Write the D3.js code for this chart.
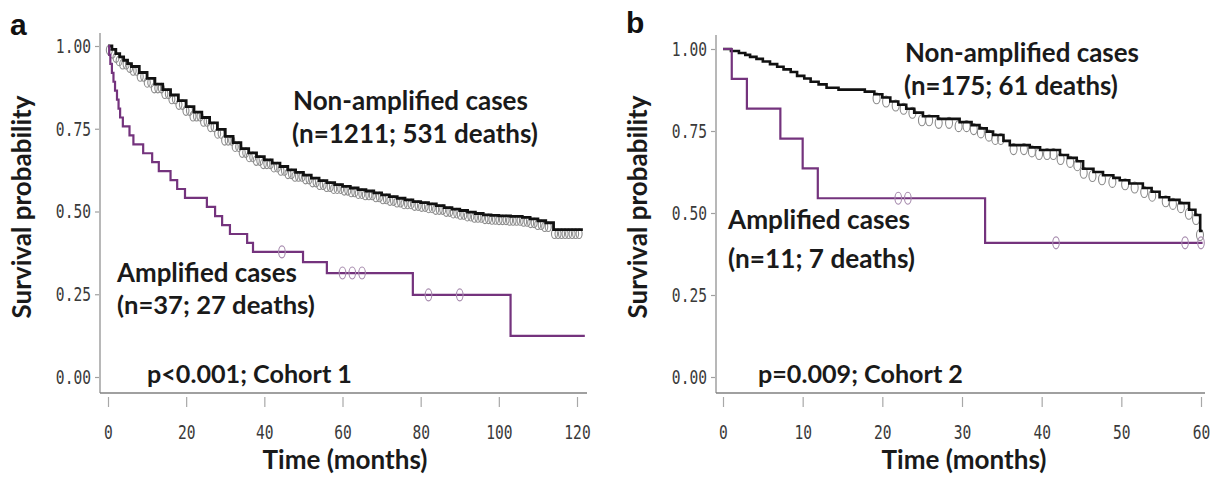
<!DOCTYPE html>
<html>
<head>
<meta charset="utf-8">
<script src="https://cdn.jsdelivr.net/npm/d3@7/dist/d3.min.js"></script>
<style>
  html, body { margin: 0; padding: 0; background: #fff; }
  svg { display: block; }
</style>
</head>
<body>
<svg id="chart" width="1216" height="482"></svg>
<script>
// ---------------- DATA ----------------
// Panel a (Cohort 1)
const yTicks = [0, 0.25, 0.5, 0.75, 1.0];
const xTicksA = [0, 20, 40, 60, 80, 100, 120];
const xTicksB = [0, 10, 20, 30, 40, 50, 60];

const nonA_time = [0, 1, 2, 3, 4, 5, 6, 8, 10, 12, 14, 16, 18, 20, 22, 24, 26, 28, 30, 32, 34, 36, 38, 40, 42, 44, 46, 48, 50, 52, 54, 56, 58, 60, 62, 64, 66, 68, 70, 72, 74, 76, 78, 80, 82, 84, 86, 88, 90, 92, 94, 96, 98, 100, 103, 106, 108, 110, 112, 114, 121.5];
const nonA_surv = [1.0, 0.99, 0.977, 0.967, 0.957, 0.947, 0.938, 0.92, 0.902, 0.885, 0.868, 0.852, 0.835, 0.817, 0.8, 0.784, 0.768, 0.748, 0.727, 0.708, 0.69, 0.677, 0.666, 0.656, 0.646, 0.636, 0.626, 0.618, 0.61, 0.601, 0.593, 0.587, 0.581, 0.576, 0.571, 0.566, 0.562, 0.556, 0.55, 0.545, 0.54, 0.535, 0.53, 0.527, 0.523, 0.518, 0.512, 0.507, 0.503, 0.498, 0.494, 0.49, 0.488, 0.487, 0.485, 0.482, 0.478, 0.472, 0.466, 0.445, 0.445];
const nonA_cens = [0.6, 1.4, 2.3, 3.1, 4.0, 4.9, 5.8, 6.7, 7.6, 8.5, 9.4, 10.3, 11.2, 12.1, 13.0, 13.9, 14.8, 15.7, 16.6, 17.5, 18.4, 19.3, 20.2, 21.1, 22.0, 22.9, 23.8, 24.7, 25.6, 26.5, 27.4, 28.3, 29.2, 30.1, 31.0, 31.9, 32.8, 33.7, 34.6, 35.5, 36.4, 37.3, 38.2, 39.1, 40.0, 40.9, 41.8, 42.7, 43.6, 44.5, 45.4, 46.3, 47.2, 48.1, 49.0, 49.9, 50.8, 51.7, 52.6, 53.5, 54.4, 55.3, 56.2, 57.1, 58.0, 58.9, 59.8, 60.7, 61.6, 62.5, 63.4, 64.3, 65.2, 66.1, 67.0, 67.9, 68.8, 69.7, 70.6, 71.5, 72.4, 73.3, 74.2, 75.1, 76.0, 76.9, 77.8, 78.7, 79.6, 80.5, 81.4, 82.3, 83.2, 84.1, 85.0, 85.9, 86.8, 87.7, 88.6, 89.5, 90.4, 91.3, 92.2, 93.1, 94.0, 94.9, 95.8, 96.7, 97.6, 98.5, 99.4, 100.3, 101.2, 102.1, 103.0, 103.9, 104.8, 105.7, 106.6, 107.5, 108.4, 109.3, 110.2, 111.1, 112.0, 112.9, 114.5, 115.4, 116.3, 117.2, 118.1, 119.0, 119.9, 120.8];

const ampA_time = [0, 0.3, 0.6, 1.0, 1.4, 1.8, 2.3, 2.7, 3.1, 3.8, 5.5, 6.5, 9.0, 11.3, 13.0, 16.0, 17.7, 19.7, 25.3, 27.4, 29.2, 31.2, 35.6, 37.1, 49.9, 56.0, 78.0, 103.0, 122.0];
const ampA_surv = [1.0, 0.973, 0.946, 0.919, 0.892, 0.865, 0.838, 0.811, 0.784, 0.757, 0.730, 0.703, 0.676, 0.649, 0.622, 0.595, 0.568, 0.541, 0.514, 0.486, 0.459, 0.432, 0.405, 0.378, 0.347, 0.314, 0.248, 0.124, 0.124];
const ampA_cens = [44.5, 60.0, 62.5, 65.0, 82.0, 90.0];

// Panel b (Cohort 2)
const nonB_time = [0, 1.0, 2.0, 2.8, 3.4, 4.2, 5.0, 5.9, 6.8, 7.6, 8.5, 9.3, 10.2, 11.0, 12.0, 13.0, 14.5, 17.8, 19.0, 20.0, 21.0, 22.0, 23.0, 24.0, 25.1, 27.0, 29.7, 31.2, 32.2, 33.1, 33.9, 35.2, 36.0, 38.5, 39.8, 42.3, 43.3, 44.4, 45.2, 46.5, 47.7, 49.0, 49.8, 51.0, 52.7, 53.8, 54.8, 56.0, 57.3, 58.5, 59.3, 59.9, 60.2];
const nonB_surv = [1.0, 0.994, 0.988, 0.982, 0.976, 0.97, 0.962, 0.954, 0.946, 0.938, 0.93, 0.918, 0.91, 0.9, 0.892, 0.882, 0.876, 0.87, 0.862, 0.852, 0.84, 0.83, 0.818, 0.806, 0.795, 0.787, 0.777, 0.768, 0.758, 0.748, 0.738, 0.72, 0.707, 0.7, 0.692, 0.677, 0.668, 0.658, 0.635, 0.625, 0.615, 0.607, 0.6, 0.59, 0.576, 0.565, 0.548, 0.54, 0.53, 0.51, 0.494, 0.445, 0.445];
const nonB_cens = [19.4, 20.6, 21.8, 22.8, 23.9, 25.1, 26.0, 27.2, 28.5, 29.7, 30.7, 31.6, 32.5, 33.5, 34.3, 35.0, 36.6, 37.9, 38.9, 39.8, 40.8, 41.6, 42.5, 43.7, 44.6, 45.4, 46.5, 47.7, 49.0, 50.6, 51.8, 53.0, 54.0, 55.7, 56.6, 57.6, 58.6, 59.5, 60.0];

const ampB_time = [0, 1.1, 3.0, 7.2, 10.0, 11.9, 32.9, 60.2];
const ampB_surv = [1.0, 0.909, 0.818, 0.727, 0.636, 0.545, 0.409, 0.409];
const ampB_cens = [22.0, 23.2, 41.8, 58.0, 60.0];

const labelsA = ["Non-amplified cases", "(n=1211; 531 deaths)", "Amplified cases", "(n=37; 27 deaths)", "p<0.001; Cohort 1"];
const labelsB = ["Non-amplified cases", "(n=175; 61 deaths)", "Amplified cases", "(n=11; 7 deaths)", "p=0.009; Cohort 2"];
const yTitle = "Survival probability";
const xTitle = "Time (months)";
const panelLetters = ["a", "b"];

// ---------------- DRAW ----------------
const svg = d3.select("#chart");
const TEXT_FONT = "Lato, 'Open Sans', sans-serif";
const TICK_FONT = "'DejaVu Sans Mono', 'Liberation Mono', monospace";
const PURPLE = "#74337d";
const TICK_SX = 0.73;   // horizontal squeeze of the monospace tick labels

function zip(t, s) { return t.map((d, i) => ({ t: d, s: s[i] })); }
function survAt(times, surv, t) {
  let v = surv[0];
  for (let i = 0; i < times.length; i++) { if (times[i] <= t) v = surv[i]; }
  return v;
}
function fitText(sel, target) {
  const w = sel.node().getComputedTextLength();
  const fs = parseFloat(sel.attr("font-size"));
  sel.attr("font-size", (fs * target / w).toFixed(2));
}

function drawPanel(cfg) {
  const g = svg.append("g");
  const x = d3.scaleLinear().domain(cfg.xDomain).range(cfg.xRange);
  const y = d3.scaleLinear().domain([0, 1]).range(cfg.yRange);

  // axis lines
  g.append("line").attr("x1", cfg.axisX).attr("x2", cfg.axisX)
    .attr("y1", cfg.axisTop).attr("y2", cfg.axisY)
    .attr("stroke", "#a0a0a0").attr("stroke-width", 1.5);
  g.append("line").attr("x1", cfg.axisX).attr("x2", cfg.axisRight)
    .attr("y1", cfg.axisY).attr("y2", cfg.axisY)
    .attr("stroke", "#808080").attr("stroke-width", 1.5);

  // y axis ticks
  const ya = g.append("g").attr("transform", `translate(${cfg.axisX - 1},0)`)
    .call(d3.axisLeft(y).tickValues(yTicks).tickFormat(d3.format(".2f")).tickSize(4).tickPadding(4));
  ya.select(".domain").remove();
  ya.selectAll(".tick line").attr("stroke", "#a0a0a0").attr("stroke-width", 1.2);
  ya.selectAll(".tick text")
    .attr("font-family", TICK_FONT).attr("font-size", 20).attr("fill", "#3a3a3a")
    .attr("x", -8 / TICK_SX)
    .attr("transform", `scale(${TICK_SX},1)`);

  // x axis ticks
  const xa = g.append("g").attr("transform", `translate(0,${cfg.axisY + 4})`)
    .call(d3.axisBottom(x).tickValues(cfg.xTicks).tickFormat(d3.format("d")).tickSize(10).tickPadding(18));
  xa.select(".domain").remove();
  xa.selectAll(".tick line").attr("stroke", "#a8a8a8").attr("stroke-width", 1.2);
  xa.selectAll(".tick text")
    .attr("font-family", TICK_FONT).attr("font-size", 20).attr("fill", "#3a3a3a")
    .attr("transform", `scale(${TICK_SX},1)`);

  const line = d3.line().x(d => x(d.t)).y(d => y(d.s)).curve(d3.curveStepAfter);

  // non-amplified censor marks
  g.append("g").selectAll("ellipse").data(cfg.nonCens).join("ellipse")
    .attr("cx", d => x(d) - 1)
    .attr("cy", d => y(survAt(cfg.nonTime, cfg.nonSurv, d)) + cfg.censDy)
    .attr("rx", cfg.censRx).attr("ry", cfg.censRy)
    .attr("fill", "none").attr("stroke", "#8c8c8c").attr("stroke-width", 1.1);

  // non-amplified curve
  g.append("path").datum(zip(cfg.nonTime, cfg.nonSurv)).attr("d", line)
    .attr("fill", "none").attr("stroke", "#111").attr("stroke-width", cfg.blackW);

  // amplified curve
  g.append("path").datum(zip(cfg.ampTime, cfg.ampSurv)).attr("d", line)
    .attr("fill", "none").attr("stroke", PURPLE).attr("stroke-width", 2.2);
  g.append("g").selectAll("ellipse").data(cfg.ampCens).join("ellipse")
    .attr("cx", d => x(d))
    .attr("cy", d => y(survAt(cfg.ampTime, cfg.ampSurv, d)))
    .attr("rx", 3.3).attr("ry", 6)
    .attr("fill", "none").attr("stroke", "#a68aad").attr("stroke-width", 1.1);

  // annotations
  cfg.labels.forEach((txt, i) => {
    const p = cfg.labelPos[i];
    const t = g.append("text").attr("x", p[0]).attr("y", p[1])
      .attr("font-family", TEXT_FONT).attr("font-weight", 700)
      .attr("font-size", 22).attr("fill", "#1a1a1a").text(txt);
    fitText(t, p[2]);
  });

  // axis titles
  const xt = g.append("text").attr("x", cfg.xTitlePos[0]).attr("y", cfg.xTitlePos[1])
    .attr("text-anchor", "middle").attr("font-family", TEXT_FONT).attr("font-weight", 700)
    .attr("font-size", 21).attr("fill", "#1a1a1a").text(xTitle);
  fitText(xt, cfg.xTitlePos[2]);
  const yt = g.append("text")
    .attr("transform", `translate(${cfg.yTitlePos[0]},${cfg.yTitlePos[1]}) rotate(-90)`)
    .attr("text-anchor", "middle").attr("font-family", TEXT_FONT).attr("font-weight", 700)
    .attr("font-size", 20).attr("fill", "#1a1a1a").text(yTitle);
  fitText(yt, cfg.yTitlePos[2]);

  // panel letter
  g.append("text").attr("x", cfg.letterPos[0]).attr("y", cfg.letterPos[1])
    .attr("font-family", "'Liberation Sans', Arial, sans-serif").attr("font-weight", 700)
    .attr("font-size", 30).attr("fill", "#111").text(cfg.letter);
}

drawPanel({
  xDomain: [0, 120], xRange: [108, 577], yRange: [377, 46],
  axisX: 100, axisTop: 33, axisY: 393, axisRight: 587,
  xTicks: xTicksA,
  nonTime: nonA_time, nonSurv: nonA_surv, nonCens: nonA_cens,
  ampTime: ampA_time, ampSurv: ampA_surv, ampCens: ampA_cens,
  censRx: 3, censRy: 4.8, censDy: 4, blackW: 2.8,
  labels: labelsA,
  labelPos: [[293, 110, 235], [292, 143, 246], [117, 282, 180], [117, 314, 198], [147, 383, 205]],
  xTitlePos: [345, 469, 165], yTitlePos: [31, 207, 223],
  letter: panelLetters[0], letterPos: [10, 35]
});

drawPanel({
  xDomain: [0, 60], xRange: [723, 1201], yRange: [377, 49],
  axisX: 716, axisTop: 35, axisY: 393, axisRight: 1205,
  xTicks: xTicksB,
  nonTime: nonB_time, nonSurv: nonB_surv, nonCens: nonB_cens,
  ampTime: ampB_time, ampSurv: ampB_surv, ampCens: ampB_cens,
  censRx: 3.5, censRy: 5.5, censDy: 4, blackW: 2.6,
  labels: labelsB,
  labelPos: [[905, 62, 234], [904, 95, 214], [728, 229, 182], [728, 268, 187], [758, 383, 205]],
  xTitlePos: [964, 469, 165], yTitlePos: [647, 207, 223],
  letter: panelLetters[1], letterPos: [626, 33]
});
</script>
</body>
</html>
